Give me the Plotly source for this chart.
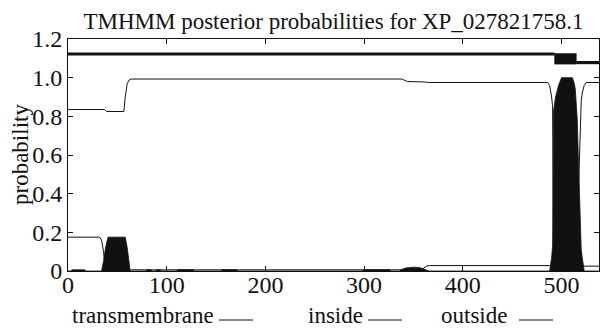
import plotly.graph_objects as go

# ---------------- data ----------------
seq_length = 538

# transmembrane posterior probability (breakpoints)
tm_pos = [0, 3, 4, 17, 18, 34, 36, 38, 40.5, 58, 60, 61.5, 63, 79, 80, 84, 85, 89, 90, 93, 94,
          110, 111, 127, 128, 155, 156, 171, 172, 298, 299, 326, 327, 336, 338, 342, 350, 356,
          360, 364, 366, 488, 489, 490, 491, 491.5, 492, 494, 497, 500, 511, 513, 514, 515,
          516, 517, 518, 519, 520, 521, 522, 523, 538]
tm_prob = [0, 0, 0.006, 0.006, 0, 0, 0.05, 0.12, 0.175, 0.175, 0.12, 0.05, 0, 0, 0.006, 0.006, 0, 0,
           0.006, 0.006, 0, 0, 0.006, 0.006, 0, 0, 0.006, 0.006, 0, 0, 0.006, 0.006, 0, 0, 0.008,
           0.015, 0.02, 0.018, 0.012, 0.003, 0, 0, 0.03, 0.07, 0.13, 0.58, 0.83, 0.9, 0.96, 1.0,
           1.0, 0.97, 0.94, 0.86, 0.78, 0.6, 0.4, 0.19, 0.11, 0.07, 0.03, 0, 0]

# inside posterior probability (breakpoints)
inside_pos = [0, 37, 39, 56.6, 58, 60, 62, 64, 338, 344, 360, 366, 486, 488, 490, 491, 491.5,
              492, 494, 497, 500, 511, 513, 516, 520, 538]
inside_prob = [0.835, 0.835, 0.825, 0.825, 0.9, 0.97, 0.988, 0.993, 0.993, 0.98, 0.978, 0.975,
               0.975, 0.96, 0.9, 0.85, 0.4, 0.15, 0.08, 0.03, 0.0, 0.0, 0.01, 0.02, 0.025, 0.025]

# outside posterior probability (breakpoints)
outside_pos = [0, 32, 34, 36, 37.5, 39, 62, 64, 358, 361, 363, 366, 488, 490, 492, 511, 514, 515,
               516, 517, 518, 519, 520, 521, 523, 525, 538]
outside_prob = [0.175, 0.175, 0.16, 0.1, 0.03, 0.0, 0.0, 0.006, 0.006, 0.015, 0.025, 0.028, 0.028,
                0.015, 0.0, 0.0, 0.02, 0.1, 0.18, 0.38, 0.58, 0.8, 0.88, 0.92, 0.96, 0.975, 0.975]

# predicted topology (top bar)
topo_labels = ["inside", "TM helix", "outside"]
topo_start = [0, 493, 515]
topo_end = [493, 515, 538]

x_ticks = [0, 100, 200, 300, 400, 500]
y_ticks = [0, 0.2, 0.4, 0.6, 0.8, 1.0, 1.2]
y_tick_text = ["0", "0.2", "0.4", "0.6", "0.8", "1.0", "1.2"]

title_text = "TMHMM posterior probabilities for XP_027821758.1"
legend_names = ["transmembrane", "inside", "outside"]

# ---------------- styling ----------------
FONT = "Liberation Serif"
INK = "#111111"
W, H = 600, 331
ML, MR, MT, MB = 68, 1, 39, 60
PW, PH = W - ML - MR, H - MT - MB

INSIDE_Y = 1.122
OUTSIDE_Y = 1.078
BOX_LO, BOX_HI = 1.070, 1.125


def px_x(p):
    return (p - ML) / PW


def px_y(p):
    return (H - MB - p) / PH


fig = go.Figure()

# transmembrane probability as filled impulses
fig.add_trace(go.Scatter(x=tm_pos, y=tm_prob, mode="lines", fill="tozeroy",
                         fillcolor=INK, line=dict(color=INK, width=0.8),
                         name=legend_names[0], showlegend=False, hoverinfo="skip"))
# inside probability
fig.add_trace(go.Scatter(x=inside_pos, y=inside_prob, mode="lines",
                         line=dict(color=INK, width=1),
                         name=legend_names[1], showlegend=False))
# outside probability
fig.add_trace(go.Scatter(x=outside_pos, y=outside_prob, mode="lines",
                         line=dict(color=INK, width=1),
                         name=legend_names[2], showlegend=False))

# topology bar
fig.add_trace(go.Scatter(x=[topo_start[0], topo_end[0]], y=[INSIDE_Y, INSIDE_Y], mode="lines",
                         line=dict(color=INK, width=3), showlegend=False, name=topo_labels[0]))
fig.add_trace(go.Scatter(x=[topo_start[1], topo_end[1], topo_end[1], topo_start[1], topo_start[1]],
                         y=[BOX_LO, BOX_LO, BOX_HI, BOX_HI, BOX_LO], mode="lines", fill="toself",
                         fillcolor=INK, line=dict(color=INK, width=0.5), showlegend=False,
                         name=topo_labels[1]))
fig.add_trace(go.Scatter(x=[topo_start[2], topo_end[2]], y=[OUTSIDE_Y, OUTSIDE_Y], mode="lines",
                         line=dict(color=INK, width=3.2), showlegend=False, name=topo_labels[2]))

axis_common = dict(showline=True, linecolor=INK, linewidth=1, mirror="ticks", ticks="inside",
                   ticklen=5, tickcolor=INK, tickwidth=1, showgrid=False, zeroline=False,
                   tickfont=dict(family=FONT, size=24, color=INK))

fig.update_xaxes(range=[0, seq_length], tickvals=x_ticks, ticklabelstandoff=-8, **axis_common)
fig.update_yaxes(range=[0, 1.2], tickvals=y_ticks, ticktext=y_tick_text, **axis_common)

annotations = [
    dict(text="probability", textangle=-90, xref="paper", yref="paper",
         x=px_x(20), y=px_y(155), xanchor="center", yanchor="middle", showarrow=False,
         font=dict(family=FONT, size=23, color=INK)),
]
# legend drawn below the axis: text followed by a line sample
legend_text_right = [216, 365, 509]
legend_line_span = [(219, 253), (368, 402), (519, 553)]
LEG_Y = 315
shapes = []
for name, xr, (l0, l1) in zip(legend_names, legend_text_right, legend_line_span):
    annotations.append(dict(text=name, xref="paper", yref="paper", x=px_x(xr), y=px_y(LEG_Y),
                            xanchor="right", yanchor="middle", showarrow=False,
                            font=dict(family=FONT, size=23, color=INK)))
    shapes.append(dict(type="line", xref="paper", yref="paper", x0=px_x(l0), x1=px_x(l1),
                       y0=px_y(320), y1=px_y(320), line=dict(color=INK, width=1)))

fig.update_layout(
    width=W, height=H,
    margin=dict(l=ML, r=MR, t=MT, b=MB),
    paper_bgcolor="white", plot_bgcolor="white",
    title=dict(text=title_text, x=0.5, xref="paper", xanchor="center",
               y=1 - 21 / H, yref="container", yanchor="middle",
               font=dict(family=FONT, size=23, color=INK)),
    annotations=annotations, shapes=shapes, showlegend=False,
)

fig.write_html("out.html", config={"displayModeBar": False},
               post_script="document.body.style.margin='0';document.body.style.padding='0';")
